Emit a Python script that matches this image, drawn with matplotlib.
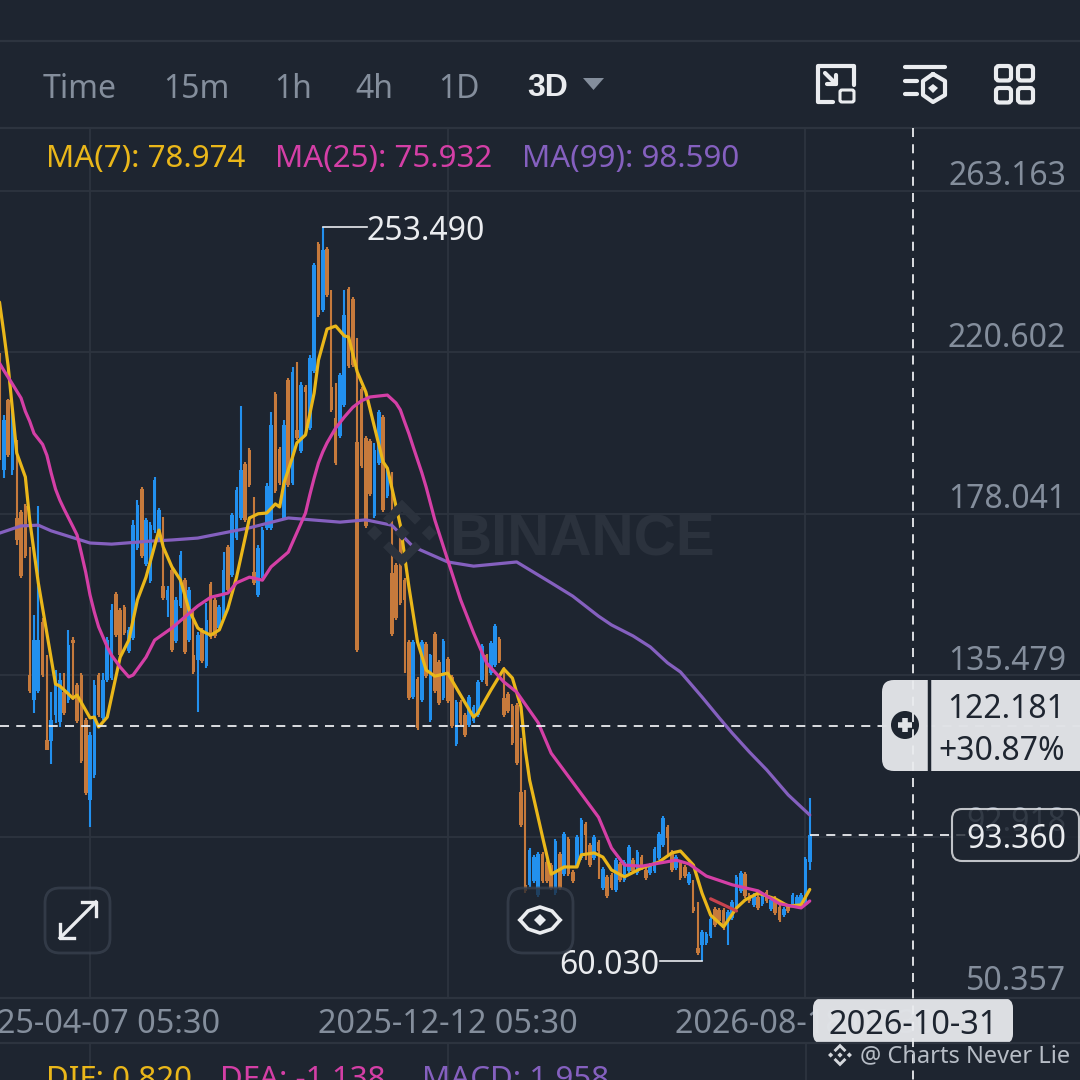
import matplotlib
matplotlib.use("Agg")
import matplotlib.pyplot as plt
from matplotlib.patches import FancyBboxPatch, Polygon, Circle
from matplotlib.ticker import FixedLocator, FixedFormatter

# candle values, one entry per 3D candle
highs = [220.4,204.0,208.3,205.4,197.5,179.0,180.6,169.2,151.3,180.0,
    150.5,140.8,131.0,136.8,136.0,136.0,147.4,145.5,133.4,136.0,
    124.2,120.5,134.2,136.0,136.0,145.5,154.2,157.4,153.1,153.9,
    148.2,176.4,181.6,185.0,176.9,175.8,187.7,179.5,177.2,158.9,
    163.7,156.0,168.2,161.0,158.7,152.6,146.8,147.9,154.5,160.0,
    155.8,153.9,167.9,169.8,178.2,185.0,206.4,191.7,195.3,182.4,
    169.8,174.5,186.1,204.8,210.0,195.6,202.7,213.8,216.7,218.0,
    212.7,212.0,219.9,244.1,249.6,253.49,248.3,237.0,212.5,215.1,
    237.0,237.8,235.2,224.3,211.4,198.5,197.7,196.6,205.4,204.0,
    189.5,189.0,165.0,171.9,161.0,144.7,144.7,135.0,144.7,144.2,
    141.0,146.8,139.5,145.0,140.2,135.5,128.9,128.9,125.5,130.2,
    127.6,134.2,143.7,141.0,144.4,149.0,145.5,137.6,131.0,127.8,
    128.1,118.9,105.2,89.9,88.1,88.9,88.9,86.7,85.9,92.3,
    88.9,94.1,92.8,84.1,93.3,97.8,96.8,91.2,93.3,92.0,
    84.9,82.8,83.3,87.2,86.2,86.7,90.7,87.2,89.4,88.1,
    84.6,85.9,90.2,94.1,98.3,96.0,89.4,88.1,86.7,85.4,
    83.6,81.5,75.7,68.3,67.8,71.7,74.4,74.1,74.1,73.6,
    76.2,82.8,83.8,83.6,78.0,78.0,77.5,78.0,78.8,76.7,
    77.2,74.9,74.3,74.9,78.0,77.5,78.0,87.5,103.0]
lows = [192.2,187.4,193.0,188.2,169.8,161.0,166.3,130.7,125.5,130.7,
    135.0,115.7,112.0,122.9,121.8,125.0,128.1,128.9,122.9,112.3,
    103.9,95.4,108.3,124.4,123.6,133.7,134.2,145.5,140.2,146.0,
    141.3,144.7,168.5,166.3,164.2,159.8,172.9,171.1,155.3,150.8,
    141.6,143.9,153.1,141.0,144.2,135.8,125.8,138.7,137.3,145.0,
    145.2,147.4,150.0,157.6,161.3,171.1,176.4,175.8,185.0,159.2,
    156.0,161.0,173.7,173.7,183.5,185.6,176.4,185.0,185.6,197.5,
    194.0,199.3,200.1,215.1,229.9,231.2,235.2,204.8,190.9,198.0,
    206.1,216.4,216.7,141.6,190.0,174.2,182.7,176.9,190.9,178.5,
    182.2,145.8,150.0,154.0,136.0,128.9,129.2,121.0,128.4,134.7,
    123.1,130.8,127.6,128.9,128.1,121.5,116.8,122.3,119.2,121.8,
    122.9,124.4,133.7,132.6,135.5,137.6,138.7,124.4,125.5,117.1,
    111.8,95.4,78.0,79.6,80.7,77.0,80.7,80.7,78.8,77.5,
    78.8,82.5,82.5,80.7,84.6,86.7,86.7,84.9,86.7,81.7,
    78.8,76.7,78.8,78.3,80.9,80.9,83.3,83.3,82.8,84.1,
    81.5,82.8,83.3,86.7,90.2,88.1,83.6,84.1,81.5,82.0,
    80.2,72.8,61.7,60.03,64.3,66.2,69.1,70.1,68.3,64.3,
    70.9,73.6,78.0,76.7,75.4,74.3,73.6,74.6,75.4,73.3,
    72.2,70.4,71.7,72.8,74.3,74.3,74.1,74.9,84.1]
opens = [208.0,189.5,208.0,189.5,177.0,178.5,180.0,135.5,128.9,131.3,
    149.5,118.4,118.0,125.0,123.1,131.0,128.9,144.7,132.9,135.5,
    123.6,102.6,109.1,135.5,124.2,134.2,134.7,156.9,152.6,153.4,
    141.8,145.2,169.0,184.5,164.7,160.3,173.7,171.6,159.0,155.3,
    163.2,144.4,153.6,160.5,144.7,140.8,139.5,147.4,137.9,159.5,
    155.3,147.9,150.5,169.2,161.8,171.6,176.9,191.2,194.8,162.6,
    156.6,161.6,174.3,174.3,209.5,195.0,176.9,213.3,186.1,200.1,
    194.5,211.4,200.6,215.6,249.1,231.7,247.8,211.4,203.2,198.5,
    206.6,237.2,234.6,196.9,210.9,197.9,197.2,177.5,191.4,203.5,
    182.7,162.4,164.5,171.4,160.5,144.2,129.7,134.5,128.9,143.7,
    123.6,146.3,139.0,129.4,139.7,135.0,117.3,128.4,125.0,122.3,
    123.4,124.9,134.2,140.8,136.0,138.1,145.0,129.4,130.5,127.3,
    127.6,104.7,80.2,80.2,81.2,77.5,88.4,86.2,85.4,78.0,
    88.4,83.0,92.3,83.6,85.1,87.2,96.2,90.7,87.2,91.5,
    79.4,82.2,82.8,78.8,85.7,81.5,83.8,86.7,83.3,87.5,
    84.1,83.3,83.8,87.2,90.7,95.5,88.9,84.6,86.2,84.9,
    80.7,74.4,63.5,64.3,64.9,66.7,73.8,73.6,73.6,70.9,
    71.4,74.1,78.6,83.0,77.5,74.9,77.0,75.1,78.3,73.8,
    76.7,74.3,72.2,74.3,74.9,74.9,74.6,75.4,86.2]
closes = [194.8,202.7,193.5,204.0,171.1,161.6,166.9,131.3,144.7,144.7,
    135.5,115.7,123.6,135.5,134.2,125.5,143.4,144.0,123.4,112.8,
    104.4,119.7,132.9,125.0,134.2,144.7,152.6,146.0,140.8,146.6,
    147.4,175.0,180.3,166.9,176.4,175.0,186.9,179.0,155.8,157.9,
    142.1,155.3,167.2,141.6,157.9,136.3,146.0,139.2,150.0,145.5,
    145.8,153.4,163.2,157.9,177.7,184.3,189.5,176.4,185.5,159.8,
    169.0,173.7,185.3,201.4,184.0,186.1,201.4,185.6,215.4,198.0,
    212.0,210.1,219.1,243.6,230.4,247.5,235.7,205.4,191.4,214.6,
    230.4,216.9,217.2,142.1,190.6,174.8,183.2,194.8,204.8,179.0,
    189.0,146.3,150.5,154.5,155.3,129.4,144.2,121.5,144.2,135.2,
    140.8,131.3,128.1,144.4,128.6,122.1,128.4,122.9,119.7,129.7,
    127.1,133.7,143.1,133.1,143.9,148.4,139.2,124.9,126.0,117.6,
    112.3,96.0,78.5,89.4,87.5,88.4,81.2,81.2,79.4,91.7,
    79.4,93.6,83.0,81.2,92.8,97.3,93.3,85.4,92.8,89.0,
    84.4,77.2,79.4,86.7,81.5,86.2,90.2,83.8,88.9,84.6,
    82.0,85.4,89.6,93.6,97.8,92.5,84.1,87.5,82.0,82.5,
    83.0,73.3,62.2,67.8,67.2,71.2,69.6,70.7,68.8,73.0,
    75.7,82.2,83.3,77.2,75.9,77.5,74.1,77.5,75.9,76.2,
    72.8,70.9,73.8,73.3,77.5,77.0,77.5,87.0,93.36]

# moving averages, read at the candles where the line bends
ma7_idx = [0,1,2,4,6,7,9,13,14,16,17,18,21,22,23,25,27,28,30,32,34,37,38,40,42,44,46,47,49,51,
    53,55,58,60,62,64,65,66,68,69,71,73,74,76,78,80,81,83,85,89,90,93,95,97,99,101,104,106,110,111,
    114,117,119,121,122,123,126,128,129,131,134,135,138,140,142,145,149,153,156,158,161,163,165,168,171,173,176,180,183,186,188]
ma7 = [233.8,225.7,217.0,194.0,187.7,176.4,159.8,133.1,132.6,130.5,129.4,130.2,124.2,124.4,121.8,124.4,135.0,140.2,144.7,155.3,161.3,173.7,169.2,164.0,160.5,152.6,147.9,147.1,146.0,147.4,
    153.1,161.3,176.9,178.0,178.2,180.6,179.8,186.1,193.0,196.7,198.8,209.8,218.5,226.7,227.5,224.9,224.6,215.4,210.1,191.7,190.0,175.0,158.7,144.2,136.8,135.2,136.0,132.1,124.4,125.5,
    131.5,137.1,134.7,127.1,115.7,107.8,92.8,83.0,83.6,84.9,84.9,88.1,88.6,87.5,84.1,82.3,84.6,86.2,88.6,89.1,85.4,78.0,72.2,69.1,74.1,76.2,78.0,76.5,74.6,74.9,78.974]
ma25_idx = [0,1,2,3,5,6,7,8,10,11,12,13,14,15,17,18,19,20,21,22,23,25,26,28,30,31,34,36,40,43,46,49,53,55,58,61,63,67,70,71,72,73,
    74,75,76,78,80,82,84,86,90,92,93,94,95,96,97,98,99,101,104,107,110,113,117,120,125,128,134,139,142,145,149,153,157,160,164,170,176,181,186,188]
ma25 = [217.7,215.8,214.0,212.2,208.5,205.0,202.4,199.2,196.3,193.4,188.7,184.5,181.6,179.2,174.7,172.4,167.6,162.6,156.6,152.1,148.2,142.9,140.7,137.6,135.0,135.5,140.2,144.7,147.9,150.8,153.7,156.0,157.1,159.8,161.3,160.5,164.0,167.9,175.6,178.2,
    183.0,187.4,191.4,194.3,196.7,200.6,203.5,206.1,207.8,208.8,209.3,207.2,205.4,202.2,199.1,195.6,192.2,188.8,185.0,176.4,165.8,155.3,146.6,138.7,133.7,131.0,122.9,114.9,105.7,98.0,89.9,85.4,85.1,85.9,86.7,85.7,82.5,80.2,78.6,75.2,74.1,75.932]
ma99_idx = [0,5,9,12,21,26,35,40,46,58,67,79,85,91,96,104,110,120,128,133,139,142,147,151,155,158,163,167,170,174,178,183,188]
ma99 = [172.9,174.8,175.0,173.5,170.3,170.0,170.8,171.1,171.6,174.3,176.9,175.8,176.4,175.0,169.3,165.3,164.2,165.3,159.8,156.3,151.0,148.7,145.8,142.9,138.7,136.3,129.7,124.2,120.2,115.2,110.5,103.9,98.59]
red_idx = [165,171]
red_vals = [76.5,73.3]

price_ticks = [263.163,220.602,178.041,135.479,92.918,50.357]
date_idx = [21,104,187]
date_labels = ["2025-04-07 05:30","2025-12-12 05:30","2026-08-18 05:30"]
cross_idx = 212
cross_price = 122.181
cross_change = "+30.87%"
cross_date = "2026-10-31"
last_price = 93.36
max_idx, max_price = 75, 253.49
min_idx, min_price = 163, 60.03

BG = "#1e2530"
GRID = "#2d343f"
GRAY = "#848e9c"
UP = "#2290ee"
DOWN = "#c67a3c"
YELLOW = "#eab71a"
PINK = "#d43fa6"
PURPLE = "#8560bf"
LIGHT = "#e1e3e7"
WHITE = "#eaecef"

plt.rcParams["font.family"] = ["Noto Sans", "DejaVu Sans"]
FS = 23

fig = plt.figure(figsize=(10.8, 10.8), dpi=100, facecolor=BG)

# chart pane, y 128..998 px
ax = fig.add_axes([0, (1080 - 998) / 1080, 1, 870 / 1080])
ax.set_facecolor("none")
ax.set_xlim(0.116, 250.7)
ax.set_ylim(50.357, 279.7)
for s in ax.spines.values():
    s.set_visible(False)

ax.yaxis.set_major_locator(FixedLocator(price_ticks))
ax.tick_params(axis="y", length=0, labelleft=False)
# price labels sit above their gridline, inside the pane
for p in price_ticks:
    ax.annotate("%.3f" % p, xy=(1, p), xycoords=ax.get_yaxis_transform(), xytext=(-10, 6 if p == price_ticks[-1] else 4),
                textcoords="offset points", ha="right", va="baseline", color=GRAY, fontsize=FS, zorder=1)
ax.xaxis.set_major_locator(FixedLocator(date_idx))
ax.xaxis.set_major_formatter(FixedFormatter(date_labels))
ax.tick_params(axis="x", length=0, pad=7.5, labelsize=23.3, labelcolor=GRAY)
ax.grid(True, color=GRID, linewidth=1.3, zorder=0)
ax.set_axisbelow(True)

# watermark sits under the candles
ax.text(0.416, 0.533, "BINANCE", transform=ax.transAxes, fontsize=42, fontweight="bold", family="Liberation Sans",
        color="#2b323d", va="center_baseline", ha="left", zorder=1)

idx = list(range(len(opens)))
colors = [UP if c >= o else DOWN for o, c in zip(opens, closes)]
ax.vlines(idx, lows, highs, colors=colors, linewidth=1.5, zorder=2)
ax.bar(idx, [abs(c - o) for o, c in zip(opens, closes)], bottom=[min(o, c) for o, c in zip(opens, closes)],
       width=0.84, color=colors, zorder=3)

line_kw = dict(linewidth=2.3, solid_joinstyle="round", solid_capstyle="round")
ax.plot(ma99_idx, ma99, color=PURPLE, zorder=4, **line_kw)
ax.plot(ma7_idx, ma7, color=YELLOW, zorder=5, **line_kw)
ax.plot(red_idx, red_vals, color="#c8434f", zorder=5, **line_kw)
ax.plot(ma25_idx, ma25, color=PINK, zorder=6, **line_kw)

# high / low markers
ax.plot([max_idx, max_idx + 10.2], [max_price, max_price], color=WHITE, linewidth=1.2, zorder=7)
ax.plot([min_idx, min_idx - 9.8], [min_price, min_price], color=WHITE, linewidth=1.2, zorder=7)
ax.text(max_idx + 10.2, max_price, "%.3f" % max_price, color=WHITE, fontsize=FS, va="center_baseline", ha="left", zorder=7)
ax.text(min_idx - 9.8, min_price, "%.3f" % min_price, color=WHITE, fontsize=FS, va="center_baseline", ha="right", zorder=7)

# crosshair and last price
ax.axhline(cross_price, color=WHITE, linewidth=1.3, dashes=(5, 4), zorder=7)
ax.plot([len(opens) - 1, 225], [last_price, last_price], color=WHITE, linewidth=1.3, dashes=(5, 4), zorder=7)

# everything around the chart is drawn in pixel coordinates
ui = fig.add_axes([0, 0, 1, 1])
ui.set_xlim(0, 1080)
ui.set_ylim(1080, 0)
ui.axis("off")
ui.patch.set_visible(False)

for y in [41, 128, 998, 1043]:
    ui.plot([0, 1080], [y, y], color=GRID, linewidth=1.6)
for x in [90, 448, 806]:
    ui.plot([x, x], [1043, 1080], color=GRID, linewidth=1.3)

ui.plot([913, 913], [128, 1080], color=WHITE, linewidth=1.3, dashes=(5, 4))

# toolbar
for label, x in [("Time", 43), ("15m", 163), ("1h", 274), ("4h", 355), ("1D", 438)]:
    ui.text(x, 86, label, color=GRAY, fontsize=FS, va="center_baseline", ha="left")
ui.text(527, 85, "3D", color=WHITE, fontsize=FS, fontweight="bold", family="Liberation Sans", va="center_baseline", ha="left")
ui.add_patch(Polygon([(583, 78), (604, 78), (593.5, 90)], closed=True, color=GRAY, linewidth=0))

# toolbar icons
kw = dict(color=WHITE, linewidth=3, solid_capstyle="round", solid_joinstyle="round")
ui.plot([854, 854, 818, 818, 833], [85, 66, 66, 102, 102], **kw)
ui.plot([825, 836], [73, 84], **kw)
ui.plot([836, 836, 827], [75, 84, 84], **kw)
ui.add_patch(FancyBboxPatch((840, 90), 14, 12, boxstyle="round,pad=0,rounding_size=2", fill=False, edgecolor=WHITE, linewidth=2.2))
ui.plot([905, 945], [67, 67], **kw)
ui.plot([905, 917], [81, 81], **kw)
ui.plot([905, 917], [94, 94], **kw)
ui.plot([933, 945, 945, 933, 923, 923, 933], [74, 81, 95, 102, 95, 81, 74], **kw)
ui.add_patch(Polygon([(933, 84), (938, 88), (933, 93), (928, 88)], closed=True, color=WHITE, linewidth=0))
for x in [996, 1018]:
    for y in [66, 88]:
        ui.add_patch(FancyBboxPatch((x, y), 15, 14.5, boxstyle="round,pad=0,rounding_size=3", fill=False, edgecolor=WHITE, linewidth=3))

# legends
for label, x, col in [("MA(7): 78.974", 46, YELLOW), ("MA(25): 75.932", 275, PINK), ("MA(99): 98.590", 522, PURPLE)]:
    ui.text(x, 156, label, color=col, fontsize=22.5, va="center_baseline", ha="left")
for label, x, col in [("DIF: 0.820", 46, YELLOW), ("DFA: -1.138", 220, PINK), ("MACD: 1.958", 422, PURPLE)]:
    ui.text(x, 1076, label, color=col, fontsize=22.5, va="center_baseline", ha="left", clip_on=True)


def logo(cx, cy, s, col):
    for dx in [-0.72, 0, 0.72]:
        ui.add_patch(Polygon([(cx + dx * s, cy - 0.2 * s), (cx + dx * s + 0.2 * s, cy), (cx + dx * s, cy + 0.2 * s), (cx + dx * s - 0.2 * s, cy)],
                             closed=True, color=col, linewidth=0))
    for sign in [-1, 1]:
        ui.plot([cx - 0.42 * s, cx, cx + 0.42 * s], [cy + sign * 0.3 * s, cy + sign * 0.72 * s, cy + sign * 0.3 * s],
                color=col, linewidth=s * 0.16, solid_joinstyle="miter", solid_capstyle="butt")


logo(402, 533, 38, "#2b323d")

# round buttons over the chart
for x in [45, 508]:
    ui.add_patch(FancyBboxPatch((x, 888), 65, 65, boxstyle="round,pad=0,rounding_size=15", facecolor=BG, alpha=0.75, edgecolor="#3a424f", linewidth=2))
ui.plot([60, 96], [938, 902], color=WHITE, linewidth=2.4)
ui.plot([60, 60, 74], [924, 938, 938], color=WHITE, linewidth=2.4)
ui.plot([82, 96, 96], [902, 902, 916], color=WHITE, linewidth=2.4)
eye_top = [520, 528, 540, 552, 560]
ui.plot(eye_top, [920, 911, 907, 911, 920], color=WHITE, linewidth=2.6)
ui.plot(eye_top, [920, 929, 933, 929, 920], color=WHITE, linewidth=2.6)
ui.add_patch(Polygon([(540, 914), (546, 920), (540, 926), (534, 920)], closed=True, color=WHITE, linewidth=0))

# crosshair price box
ui.add_patch(FancyBboxPatch((882, 680), 210, 91, boxstyle="round,pad=0,rounding_size=12", facecolor=LIGHT, edgecolor="none", alpha=0.98))
ui.plot([929, 929], [680, 771], color=BG, linewidth=2.5)
ui.add_patch(Circle((905, 725), 14, color=BG, linewidth=0))
ui.plot([905, 905], [718, 732], color=LIGHT, linewidth=4, solid_capstyle="butt")
ui.plot([898, 912], [725, 725], color=LIGHT, linewidth=4, solid_capstyle="butt")
ui.text(1065, 706, "%.3f" % cross_price, color=BG, fontsize=FS, va="center_baseline", ha="right")
ui.text(1065, 747, cross_change, color=BG, fontsize=FS, va="center_baseline", ha="right")

# last price box, the axis label stays faintly visible behind it
ui.add_patch(FancyBboxPatch((952, 809), 127, 52, boxstyle="round,pad=0,rounding_size=10", facecolor=BG, alpha=0.8, edgecolor=WHITE, linewidth=1.5))
ui.text(1016, 835, "%.3f" % last_price, color=WHITE, fontsize=FS, va="center_baseline", ha="center")

# crosshair date box
ui.add_patch(FancyBboxPatch((813, 998), 200, 46, boxstyle="round,pad=0,rounding_size=10", facecolor=LIGHT, edgecolor="none", alpha=0.98))
ui.text(913, 1022, cross_date, color=BG, fontsize=23.4, va="center_baseline", ha="center")

# footer credit
logo(840, 1055, 13, "#d5d8dd")
ui.text(860, 1053, "@ Charts Never Lie", color="#b7bdc6", fontsize=17, va="center_baseline", ha="left")

fig.savefig("out.png", dpi=100, facecolor=BG)
